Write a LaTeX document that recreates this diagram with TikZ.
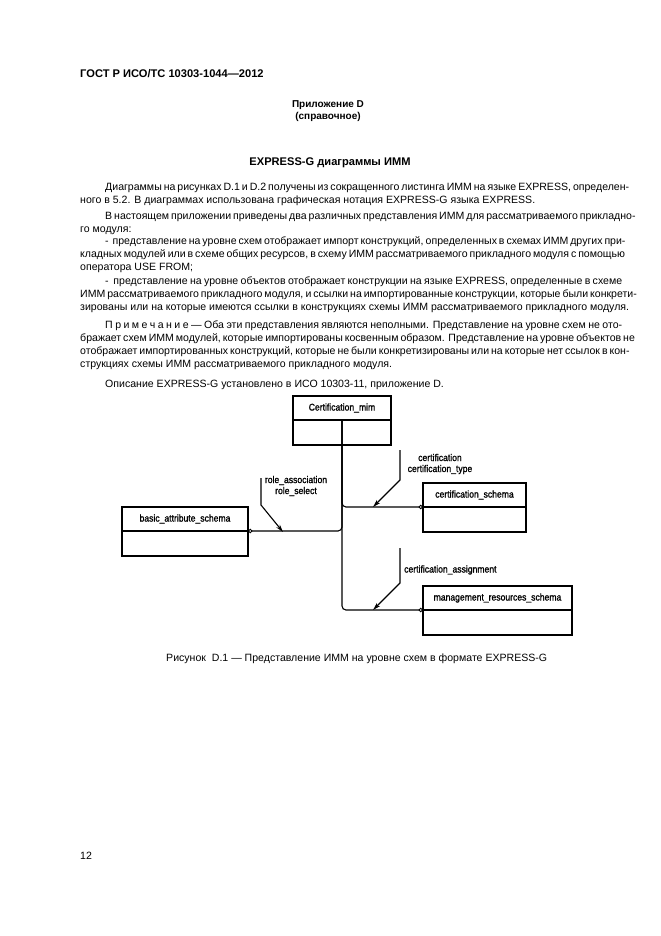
\documentclass[tikz,border=0pt]{standalone}
\usepackage{fontspec}
\setmainfont{Liberation Sans}
\newfontfamily\dgfont[FakeStretch=0.88,FakeBold=1.2]{Liberation Sans}
\usetikzlibrary{positioning,arrows.meta}

% justified full line, and justified first line with indent
\newcommand\jl[1]{\makebox[487.8pt][s]{#1}}
\newcommand\fl[1]{\hspace*{22.5pt}\makebox[465.3pt][s]{#1}}

\tikzset{
  ent/.style={draw, line width=1.2pt, inner sep=0pt, outer sep=0pt, minimum height=21.6pt,
    font=\dgfont\fontsize{8.8pt}{9pt}\selectfont},
  entb/.style={draw, line width=1.2pt, inner sep=0pt, outer sep=0pt, minimum height=22.5pt},
  lnk/.style={line width=1pt, rounded corners=3.6pt, -{Circle[open,length=4pt,line width=0.8pt]}},
  ref/.style={line width=1pt, -{Stealth[length=7pt,width=4pt]}},
  lbl/.style={font=\dgfont\fontsize{8.8pt}{9.9pt}\selectfont, align=center, inner sep=0pt},
  txt/.style={anchor=base west, align=left, inner sep=0pt, font=\fontsize{9.5pt}{11.7pt}\selectfont},
}

\begin{document}
\begin{tikzpicture}[x=0.9pt,y=-0.9pt]
\useasboundingbox (0,0) rectangle (661,936);

% page head
\node[anchor=base west, inner sep=0pt, font=\bfseries\fontsize{10pt}{12pt}\selectfont] (head) at (80,77) {ГОСТ Р ИСО/ТС 10303-1044—2012};
\node[anchor=base, align=center, inner sep=0pt, font=\bfseries\fontsize{9pt}{10.5pt}\selectfont] (annex) at (328,119) {Приложение D\\(справочное)};
\node[anchor=base, inner sep=0pt, font=\bfseries\fontsize{10pt}{12pt}\selectfont] (title) at (330,165) {EXPRESS-G диаграммы ИММ};

% text (base = last line)
\node[txt] (p1) at (80,203) {\fl{Диаграммы на рисунках D.1 и D.2 получены из сокращенного листинга ИММ на языке EXPRESS, определен-}\\
ного в 5.2. В диаграммах использована графическая нотация EXPRESS-G языка EXPRESS.};
\node[txt] (p2) at (80,232) {\fl{В настоящем приложении приведены два различных представления ИММ для рассматриваемого прикладно-}\\
го модуля:};
\node[txt] (p3) at (80,270) {\fl{- \ представление на уровне схем отображает импорт конструкций, определенных в схемах ИММ других при-}\\
\jl{кладных модулей или в схеме общих ресурсов, в схему ИММ рассматриваемого прикладного модуля с помощью}\\
оператора USE FROM;};
\node[txt] (p4) at (80,310) {\fl{- \ представление на уровне объектов отображает конструкции на языке EXPRESS, определенные в схеме}\\
\jl{ИММ рассматриваемого прикладного модуля, и ссылки на импортированные конструкции, которые были конкрети-}\\
зированы или на которые имеются ссылки в конструкциях схемы ИММ рассматриваемого прикладного модуля.};
\node[txt] (p5) at (80,367) {\fl{П\kern2.2ptр\kern2.2ptи\kern2.2ptм\kern2.2ptе\kern2.2ptч\kern2.2ptа\kern2.2ptн\kern2.2ptи\kern2.2ptе — Оба эти представления являются неполными. Представление на уровне схем не ото-}\\
\jl{бражает схем ИММ модулей, которые импортированы косвенным образом. Представление на уровне объектов не}\\
\jl{отображает импортированных конструкций, которые не были конкретизированы или на которые нет ссылок в кон-}\\
струкциях схемы ИММ рассматриваемого прикладного модуля.};
\node[txt] (p6) at (80,387) {\hspace*{22.5pt}Описание EXPRESS-G установлено в ИСО 10303-11, приложение D.};

% schemas
\node[ent, minimum width=88.2pt, anchor=north west] (mim) at (293,396) {Certification\_mim};
\node[entb, minimum width=88.2pt, below=0pt of mim] (mimb) {};
\node[ent, minimum width=92.7pt, anchor=north west] (cs) at (423,483) {certification\_schema};
\node[entb, minimum width=92.7pt, below=0pt of cs] (csb) {};
\node[ent, minimum width=113.4pt, anchor=north west] (bas) at (122,507) {basic\_attribute\_schema};
\node[entb, minimum width=113.4pt, below=0pt of bas] (basb) {};
\node[ent, minimum width=134.1pt, anchor=north west] (mrs) at (423,586) {management\_resources\_schema};
\node[entb, minimum width=134.1pt, below=0pt of mrs] (mrsb) {};

% USE FROM links
\draw[lnk] (mim.south) |- (mrs.south west);
\draw[lnk] (mim.south) |- (cs.south west);
\draw[lnk] (mim.south) |- (bas.south east);

% references
\node[lbl] (lcs) at (440,464) {certification\\certification\_type};
\coordinate (cs1) at (400,450);
\coordinate (cs2) at (400,480);
\coordinate (cs3) at (373,507);
\draw[ref] (cs1) -- (cs2) -- (cs3);

\node[lbl] (lbas) at (296,486) {role\_association\\role\_select};
\coordinate (bas1) at (261,478);
\coordinate (bas2) at (261,505);
\coordinate (bas3) at (283,532);
\draw[ref] (bas1) -- (bas2) -- (bas3);

\node[lbl, anchor=west] (lmrs) at (404,570) {certification\_assignment};
\coordinate (mrs1) at (400,548);
\coordinate (mrs2) at (400,583);
\coordinate (mrs3) at (373,610);
\draw[ref] (mrs1) -- (mrs2) -- (mrs3);

% caption and page number
\node[anchor=base west, inner sep=0pt, font=\fontsize{9.5pt}{11pt}\selectfont] (cap) at (166,661) {Рисунок \ D.1 — Представление ИММ на уровне схем в формате EXPRESS-G};
\node[anchor=base west, inner sep=0pt, font=\fontsize{9.5pt}{11pt}\selectfont] (pg) at (80,859) {12};
\end{tikzpicture}
\end{document}
